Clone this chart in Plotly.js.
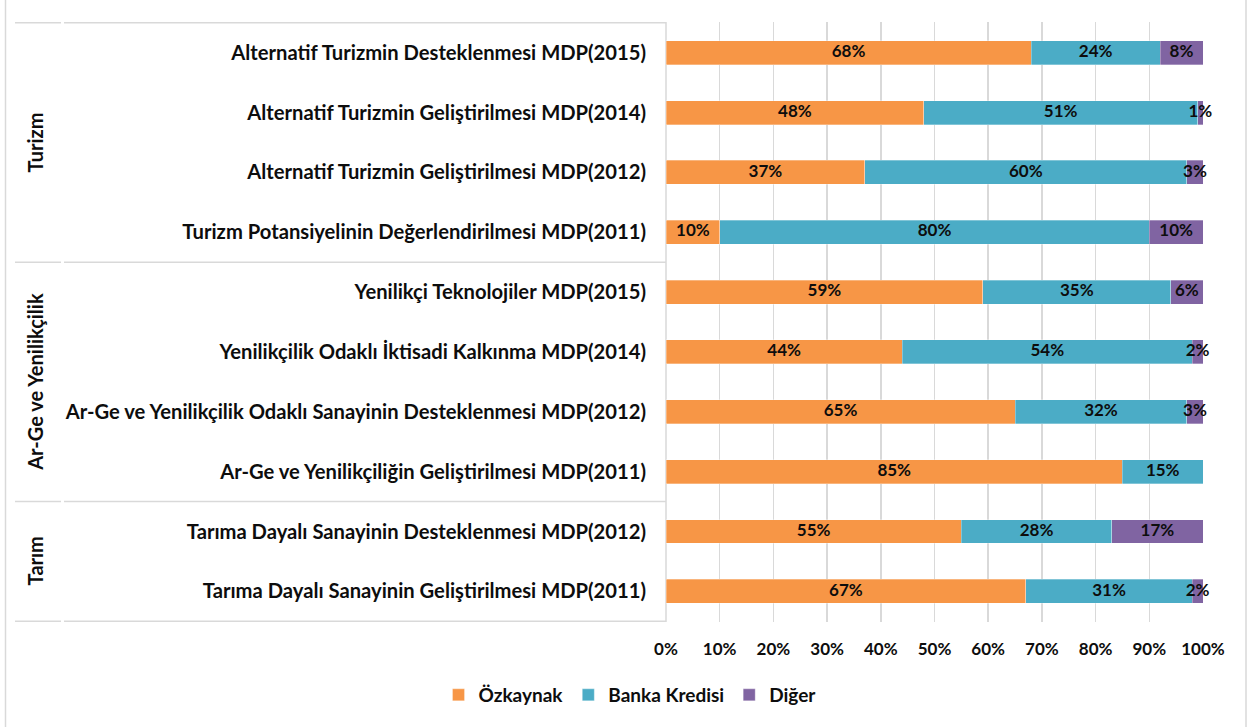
<!DOCTYPE html>
<html>
<head>
<meta charset="utf-8">
<script src="https://cdn.plot.ly/plotly-3.0.1.min.js"></script>
<style>
  html, body { margin: 0; padding: 0; background: #ffffff; }
  #chart { width: 1247px; height: 727px; }
</style>
</head>
<body>
<div id="chart"></div>
<script>
// ---- Data ----
const categories = [
  "Alternatif Turizmin Desteklenmesi MDP(2015)",
  "Alternatif Turizmin Geliştirilmesi MDP(2014)",
  "Alternatif Turizmin Geliştirilmesi MDP(2012)",
  "Turizm Potansiyelinin Değerlendirilmesi MDP(2011)",
  "Yenilikçi Teknolojiler MDP(2015)",
  "Yenilikçilik Odaklı İktisadi Kalkınma MDP(2014)",
  "Ar-Ge ve Yenilikçilik Odaklı Sanayinin Desteklenmesi MDP(2012)",
  "Ar-Ge ve Yenilikçiliğin Geliştirilmesi MDP(2011)",
  "Tarıma Dayalı Sanayinin Desteklenmesi MDP(2012)",
  "Tarıma Dayalı Sanayinin Geliştirilmesi MDP(2011)"
];
const groupNames = ["Turizm", "Ar-Ge ve Yenilikçilik", "Tarım"];
const groupSizes = [4, 4, 2];

const ozkaynak     = [68, 48, 37, 10, 59, 44, 65, 85, 55, 67];
const bankaKredisi = [24, 51, 60, 80, 35, 54, 32, 15, 28, 31];
const diger        = [8, 1, 3, 10, 6, 2, 3, 0, 17, 2];

const seriesNames = ["Özkaynak", "Banka Kredisi", "Diğer"];
const seriesValues = [ozkaynak, bankaKredisi, diger];
const seriesColors = ["#F79646", "#4BACC6", "#8064A2"];

const xTickVals = [0, 10, 20, 30, 40, 50, 60, 70, 80, 90, 100];
const xTickText = ["0%", "10%", "20%", "30%", "40%", "50%", "60%", "70%", "80%", "90%", "100%"];

// ---- Layout constants ----
const W = 1247, H = 727;
const M = { l: 666, r: 44, t: 22, b: 105 };
const plotW = W - M.l - M.r;
const plotH = H - M.t - M.b;
const FONT = "Lato, 'Open Sans', sans-serif";
const px2x = p => (p - M.l) / plotW;      // pixel x -> paper x
const px2y = p => 1 - (p - M.t) / plotH;  // pixel y -> paper y
const gridColor = "#d9d9d9";
const textColor = "#0d0d0d";

// ---- Traces ----
const traces = [];
seriesValues.forEach((vals, i) => {
  traces.push({
    type: "bar",
    orientation: "h",
    name: seriesNames[i],
    x: vals,
    y: categories,
    width: 0.4,
    marker: { color: seriesColors[i], line: { color: "rgba(255,255,255,0.6)", width: 0.5 } },
    hoverinfo: "x+y+name"
  });
});

// data labels (at segment centres, computed from the series)
const lblX = [], lblY = [], lblT = [];
categories.forEach((c, j) => {
  let base = 0;
  seriesValues.forEach(vals => {
    const v = vals[j];
    if (v > 0) {
      lblX.push(base + v / 2);
      lblY.push(c);
      lblT.push(v + "%");
    }
    base += v;
  });
});
traces.push({
  type: "scatter",
  mode: "text",
  x: lblX,
  y: lblY,
  text: lblT,
  textposition: "middle center",
  textfont: { family: FONT, size: 17, color: textColor, weight: "bold" },
  showlegend: false,
  hoverinfo: "skip",
  cliponaxis: false
});

// ---- Shapes: label box and group separators ----
const shapes = [];
const lineStyle = { color: gridColor, width: 1.5 };
const boxLeft = px2x(15), gapL = px2x(61), gapR = px2x(64);
let bounds = [-0.5];
let acc = -0.5;
groupSizes.forEach(s => { acc += s; bounds.push(acc); });
bounds.forEach(b => {
  shapes.push({ type: "line", xref: "paper", yref: "y", x0: boxLeft, x1: gapL, y0: b, y1: b, line: lineStyle, layer: "below" });
  shapes.push({ type: "line", xref: "paper", yref: "y", x0: gapR, x1: 0, y0: b, y1: b, line: lineStyle, layer: "below" });
});
// right edge of label box (left axis border)
shapes.push({ type: "line", xref: "paper", yref: "paper", x0: 0, x1: 0, y0: 0, y1: 1, line: lineStyle, layer: "below" });
// outer chart frame (left and right)
shapes.push({ type: "line", xref: "paper", yref: "paper", x0: px2x(5.5), x1: px2x(5.5), y0: px2y(H + 5), y1: px2y(-5), line: { color: gridColor, width: 1.5 } });
shapes.push({ type: "line", xref: "paper", yref: "paper", x0: px2x(1246), x1: px2x(1246), y0: px2y(H + 5), y1: px2y(-5), line: { color: gridColor, width: 1.5 } });

// ---- Group label annotations ----
const annotations = [];
let start = 0;
groupSizes.forEach((s, g) => {
  const mid = start + (s - 1) / 2;
  annotations.push({
    xref: "paper", yref: "y",
    x: px2x(35), y: mid,
    text: groupNames[g],
    textangle: -90,
    showarrow: false,
    xanchor: "center", yanchor: "middle",
    font: { family: FONT, size: 20, color: textColor, weight: "bold" }
  });
  start += s;
});

const layout = {
  width: W, height: H,
  margin: M,
  paper_bgcolor: "#ffffff",
  plot_bgcolor: "#ffffff",
  barmode: "stack",
  font: { family: FONT, color: textColor },
  xaxis: {
    range: [0, 100],
    tickvals: xTickVals,
    ticktext: xTickText,
    showgrid: true,
    gridcolor: gridColor,
    gridwidth: 1.5,
    zeroline: false,
    showline: false,
    ticks: "",
    ticklabelstandoff: 15,
    tickfont: { family: FONT, size: 17, color: textColor, weight: "bold" },
    fixedrange: true
  },
  yaxis: {
    type: "category",
    categoryorder: "array",
    categoryarray: categories,
    autorange: "reversed",
    showgrid: false,
    zeroline: false,
    showline: false,
    ticks: "",
    ticklabelstandoff: 19,
    tickfont: { family: FONT, size: 20.2, color: textColor, weight: "bold" },
    fixedrange: true
  },
  showlegend: true,
  legend: {
    orientation: "h",
    x: px2x(630), xanchor: "center",
    y: px2y(695), yanchor: "middle",
    font: { family: FONT, size: 19, color: textColor, weight: "bold" },
    traceorder: "normal",
    itemclick: false
  },
  shapes: shapes,
  annotations: annotations
};

Plotly.newPlot("chart", traces, layout, { displayModeBar: false, staticPlot: true });
</script>
</body>
</html>
